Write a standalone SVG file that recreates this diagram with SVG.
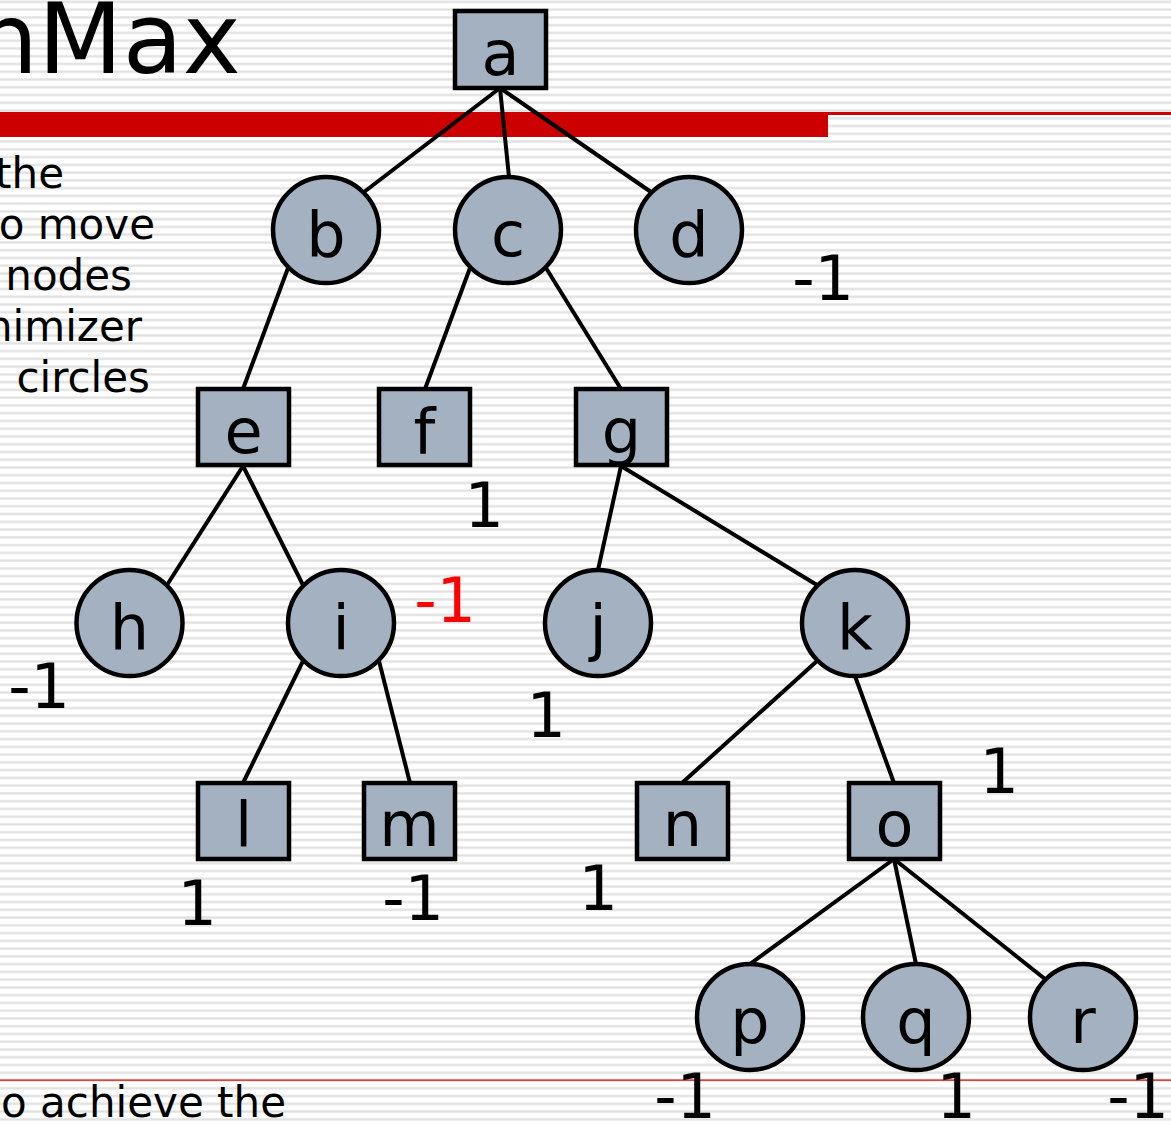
<svg xmlns="http://www.w3.org/2000/svg" width="1171" height="1125" viewBox="0 0 1171 1125">
<defs>
<pattern id="stripes" patternUnits="userSpaceOnUse" x="0" y="0.4" width="20" height="7.76">
<rect x="0" y="0" width="20" height="3" fill="#f0f0f0"/>
<rect x="0" y="0.7" width="20" height="1.6" fill="#e0e0e0"/>
</pattern>
<style>
.node{fill:#a3b1c0;stroke:#000;stroke-width:4.5}
.lbl{font-family:"DejaVu Sans",Verdana,sans-serif;font-size:62px;fill:#000;text-anchor:middle}
.val{font-family:"DejaVu Sans",Verdana,sans-serif;font-size:62px;fill:#000;text-anchor:end}
.body{font-family:"DejaVu Sans",Verdana,sans-serif;font-size:42px;fill:#000;text-anchor:end}
.edge{stroke:#000;stroke-width:4;fill:none}
</style>
</defs>
<rect width="1171" height="1125" fill="#ffffff"/>
<rect width="1171" height="1125" fill="url(#stripes)"/>
<g id="slide">
<text x="-24" y="73" font-family="DejaVu Sans, Verdana, sans-serif" font-size="98" fill="#000">nMax</text>
<rect x="0" y="112" width="828" height="25" fill="#cc0000"/>
<rect x="828" y="112" width="343" height="3" fill="#cc0000"/>
<rect x="0" y="1079.5" width="1171" height="1.2" fill="#dd0000"/>
<text class="body" x="64" y="188">the</text>
<text class="body" x="155" y="239">o move</text>
<text class="body" x="132" y="290">nodes</text>
<text class="body" x="142" y="341">nimizer</text>
<text class="body" x="150" y="392">circles</text>
<text class="body" x="286" y="1117">o achieve the</text>
</g>
<g id="connectors">
<line class="edge" x1="500" y1="88" x2="364" y2="192"/>
<line class="edge" x1="500" y1="88" x2="509" y2="177"/>
<line class="edge" x1="500" y1="88" x2="651" y2="192"/>
<line class="edge" x1="288" y1="268" x2="243" y2="389"/>
<line class="edge" x1="470" y1="268" x2="425" y2="389"/>
<line class="edge" x1="546" y1="268" x2="621" y2="389"/>
<line class="edge" x1="243" y1="466" x2="167" y2="585"/>
<line class="edge" x1="243" y1="466" x2="303" y2="585"/>
<line class="edge" x1="621" y1="466" x2="598" y2="570"/>
<line class="edge" x1="621" y1="466" x2="817" y2="585"/>
<line class="edge" x1="303" y1="661" x2="243" y2="783"/>
<line class="edge" x1="379" y1="661" x2="410" y2="783"/>
<line class="edge" x1="817" y1="661" x2="682" y2="783"/>
<line class="edge" x1="855" y1="676" x2="894" y2="783"/>
<line class="edge" x1="894" y1="859" x2="750" y2="964"/>
<line class="edge" x1="894" y1="859" x2="916" y2="964"/>
<line class="edge" x1="894" y1="859" x2="1045" y2="979"/>
</g>
<g id="node-a"><rect class="node" x="455" y="11" width="91" height="77"/><text class="lbl" x="500.5" y="75">a</text></g>
<g id="node-b"><circle class="node" cx="326" cy="230" r="53"/><text class="lbl" x="326" y="256">b</text></g>
<g id="node-c"><circle class="node" cx="508" cy="230" r="53"/><text class="lbl" x="508" y="256">c</text></g>
<g id="node-d"><circle class="node" cx="689" cy="230" r="53"/><text class="lbl" x="689" y="256">d</text></g>
<g id="node-e"><rect class="node" x="198" y="389" width="91" height="76"/><text class="lbl" x="243.5" y="453">e</text></g>
<g id="node-f"><rect class="node" x="379" y="389" width="91" height="76"/><text class="lbl" x="424.5" y="453">f</text></g>
<g id="node-g"><rect class="node" x="576" y="389" width="91" height="76"/><text class="lbl" x="621.5" y="453">g</text></g>
<g id="node-h"><circle class="node" cx="129.5" cy="623" r="53"/><text class="lbl" x="129.5" y="649">h</text></g>
<g id="node-i"><circle class="node" cx="341" cy="623" r="53"/><text class="lbl" x="341" y="649">i</text></g>
<g id="node-j"><circle class="node" cx="598" cy="623" r="53"/><text class="lbl" x="598" y="649">j</text></g>
<g id="node-k"><circle class="node" cx="855" cy="623" r="53"/><text class="lbl" x="855" y="649">k</text></g>
<g id="node-l"><rect class="node" x="198" y="783" width="91" height="76"/><text class="lbl" x="243.5" y="846">l</text></g>
<g id="node-m"><rect class="node" x="364" y="783" width="91" height="76"/><text class="lbl" x="409.5" y="846">m</text></g>
<g id="node-n"><rect class="node" x="637" y="783" width="91" height="76"/><text class="lbl" x="682.5" y="846">n</text></g>
<g id="node-o"><rect class="node" x="849" y="783" width="91" height="76"/><text class="lbl" x="894.5" y="846">o</text></g>
<g id="node-p"><circle class="node" cx="750" cy="1017" r="53"/><text class="lbl" x="750" y="1043">p</text></g>
<g id="node-q"><circle class="node" cx="916" cy="1017" r="53"/><text class="lbl" x="916" y="1043">q</text></g>
<g id="node-r"><circle class="node" cx="1083" cy="1017" r="53"/><text class="lbl" x="1083" y="1043">r</text></g>
<g id="values">
<text class="val" x="854" y="300">-1</text>
<text class="val" x="504" y="527">1</text>
<text class="val" x="476" y="622" style="fill:#ff0000">-1</text>
<text class="val" x="70" y="708">-1</text>
<text class="val" x="566" y="737">1</text>
<text class="val" x="1019" y="793">1</text>
<text class="val" x="217" y="925">1</text>
<text class="val" x="444" y="920">-1</text>
<text class="val" x="618" y="910">1</text>
<text class="val" x="716" y="1118">-1</text>
<text class="val" x="976" y="1118">1</text>
<text class="val" x="1169" y="1118">-1</text>
</g>
</svg>
